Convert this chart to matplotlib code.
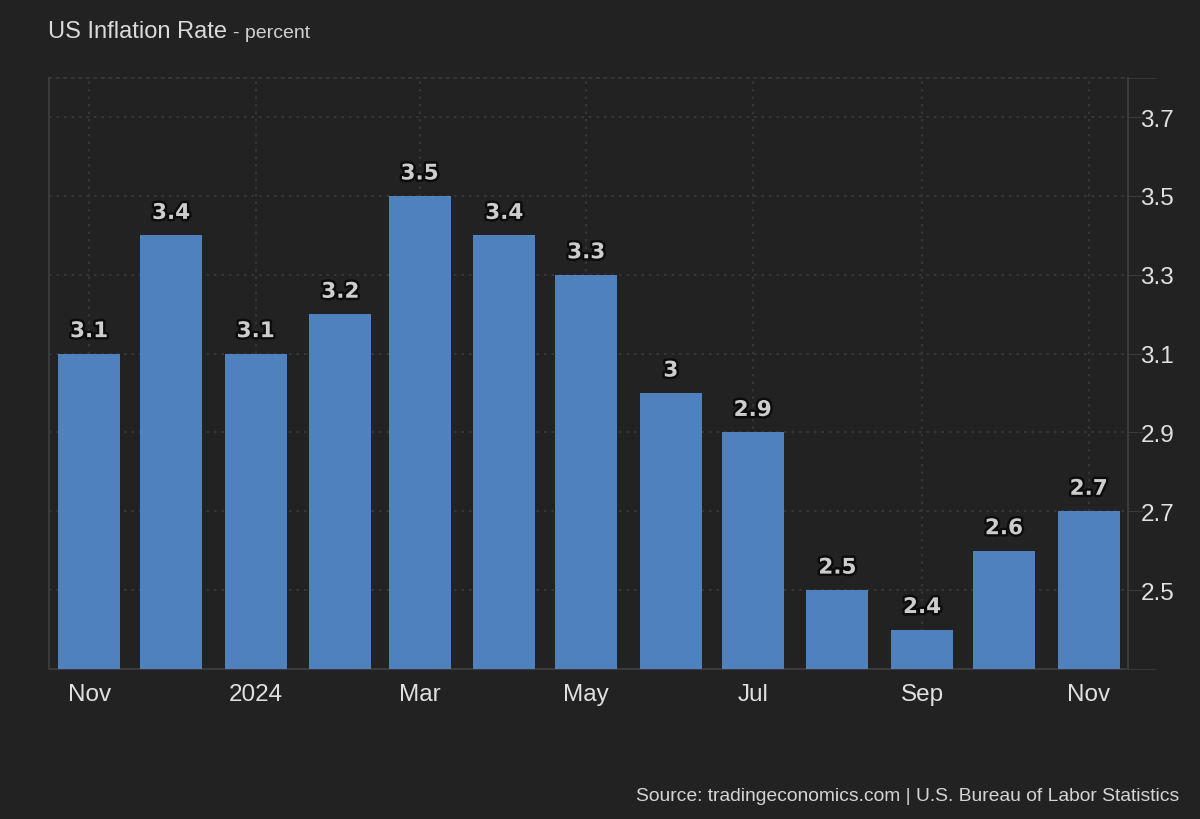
import datetime as dt
import matplotlib
matplotlib.use("Agg")
import matplotlib.pyplot as plt
import matplotlib.dates as mdates
import matplotlib.patheffects as pe

months = [dt.date(2023, 11, 1), dt.date(2023, 12, 1), dt.date(2024, 1, 1), dt.date(2024, 2, 1),
          dt.date(2024, 3, 1), dt.date(2024, 4, 1), dt.date(2024, 5, 1), dt.date(2024, 6, 1),
          dt.date(2024, 7, 1), dt.date(2024, 8, 1), dt.date(2024, 9, 1), dt.date(2024, 10, 1),
          dt.date(2024, 11, 1)]
rates = [3.1, 3.4, 3.1, 3.2, 3.5, 3.4, 3.3, 3.0, 2.9, 2.5, 2.4, 2.6, 2.7]

tick_dates = [dt.date(2023, 11, 1), dt.date(2024, 1, 1), dt.date(2024, 3, 1), dt.date(2024, 5, 1),
              dt.date(2024, 7, 1), dt.date(2024, 9, 1), dt.date(2024, 11, 1)]
tick_labels = ["Nov", "2024", "Mar", "May", "Jul", "Sep", "Nov"]
y_ticks = [2.5, 2.7, 2.9, 3.1, 3.3, 3.5, 3.7]

bg = "#222222"
grid_c = "#3a3a3a"
bar_c = "#4e81bd"
txt_c = "#e0e0e0"

fig = plt.figure(figsize=(12, 8.2), dpi=100, facecolor=bg)
ax = fig.add_axes([0.041, 0.183, 0.899, 0.721], facecolor=bg)

x = mdates.date2num(months)
ax.bar(x, rates, width=22.7, color=bar_c, zorder=3)

for xi, v in zip(x, rates):
    ax.annotate("%g" % v, (xi, v), xytext=(0, 9), textcoords="offset points",
                ha="center", va="bottom", fontsize=15.5, fontweight="bold",
                family="DejaVu Sans", color="#cdcdcd", zorder=5,
                path_effects=[pe.withStroke(linewidth=3.5, foreground="#0c0c0c")])

ax.set_xlim(x[0] - 14.6, x[-1] + 14.4)
ax.set_ylim(2.3, 3.8)

ax.set_xticks(mdates.date2num(tick_dates))
ax.set_xticklabels(tick_labels, family="Liberation Sans", fontsize=17.5, color=txt_c)
ax.tick_params(axis="x", length=0, pad=10)

ax.yaxis.tick_right()
ax.set_yticks(y_ticks)
ax.set_yticklabels(["%.1f" % t for t in y_ticks], family="Liberation Sans", fontsize=17.5, color=txt_c)
ax.set_yticks([2.3, 3.8], minor=True)
ax.tick_params(axis="y", which="major", length=10, color=grid_c, pad=-1)
ax.tick_params(axis="y", which="minor", length=20, color=grid_c)

ax.grid(True, which="major", linestyle=(0, (1.5, 3)), color=grid_c, linewidth=1.2, zorder=0)
ax.set_axisbelow(True)

for s in ["left", "right", "bottom"]:
    ax.spines[s].set_color(grid_c)
    ax.spines[s].set_linewidth(1.5)
ax.spines["top"].set_color(grid_c)
ax.spines["top"].set_linestyle((0, (1.5, 3)))
ax.spines["top"].set_linewidth(1.2)

title = fig.text(0.04, 0.961, "US Inflation Rate", family="Liberation Sans", fontsize=17,
                 color="#dadada", va="center", ha="left")
fig.canvas.draw()
bb = title.get_window_extent().transformed(fig.transFigure.inverted())
fig.text(bb.x1 + 0.005, 0.959, "- percent", family="Liberation Sans", fontsize=14,
         color="#d0d0d0", va="center", ha="left")
fig.text(0.983, 0.029, "Source: tradingeconomics.com | U.S. Bureau of Labor Statistics",
         family="Liberation Sans", fontsize=13.9, color="#d4d4d4", ha="right", va="center")

fig.savefig("out.png", dpi=100, facecolor=bg)
